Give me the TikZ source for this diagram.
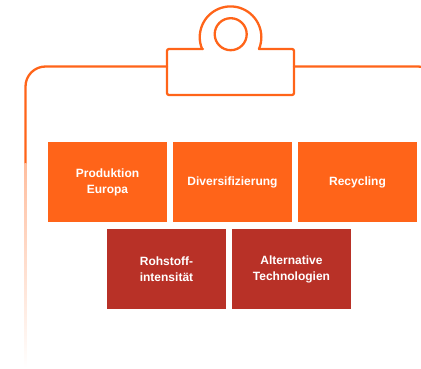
\documentclass[tikz,border=0pt]{standalone}
\usepackage{fontspec}
\setmainfont{Liberation Sans}
\definecolor{clipOrange}{HTML}{FF6419}
\definecolor{boxOrange}{HTML}{FF6419}
\definecolor{boxRed}{HTML}{B83127}
\tikzset{
  outline/.style={draw=clipOrange, line width=2.3pt, line cap=round, line join=round},
  tile/.style={minimum width=119pt, minimum height=80pt, inner sep=0pt,
    align=center, text=white, font=\bfseries\fontsize{12}{16}\selectfont},
  toprow/.style={tile, fill=boxOrange},
  bottomrow/.style={tile, fill=boxRed}
}
\begin{document}
\begin{tikzpicture}[x=1pt, y=-1pt]
  \useasboundingbox (0,0) rectangle (421,369);

  % clipboard edge: top line with rounded left corner
  \draw[outline, rounded corners=20pt] (167,66.5) -- (25.5,66.5) -- (25.5,164);
  \draw[outline, rounded corners=20pt] (294,66.5) -- (438,66.5) -- (438,120);
  % left edge fading out
  \shade[top color=clipOrange!42!white, bottom color=white]
    (24.4,164) rectangle (26.6,368);

  % clip with ring
  \draw[outline, rounded corners=2pt]
    (203,49) -- (167,49) -- (167,95) -- (294,95) -- (294,49) -- (259,49);
  \draw[outline] (259,49) arc[start angle=22.5, end angle=-202.5, radius=30.8];
  \draw[outline] (230.7,34.2) circle[radius=16];

  % tiles
  \node[toprow] (prod) at (107.5,182) {Produktion\\Europa};
  \node[toprow] (div) at (232.5,182) {Diversifizierung};
  \node[toprow] (rec) at (357.5,182) {Recycling};
  \node[bottomrow] (roh) at (166.5,269) {Rohstoff-\\intensität};
  \node[bottomrow] (alt) at (291.5,269) {Alternative\\Technologien};
\end{tikzpicture}
\end{document}
